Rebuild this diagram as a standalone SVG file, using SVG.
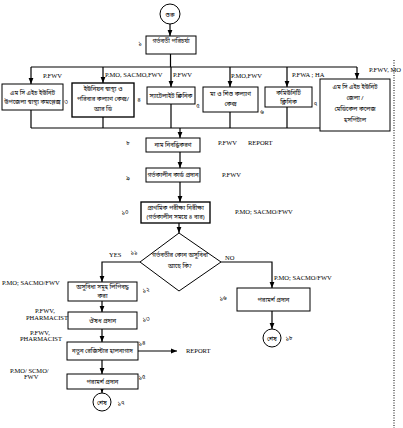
<svg xmlns="http://www.w3.org/2000/svg" width="403" height="428" viewBox="0 0 403 428">
<style>
.bx{fill:#fff;stroke:#000;stroke-width:1}
.bt{fill:#fff;stroke:#000;stroke-width:1.35}
.ln{fill:none;stroke:#000;stroke-width:1.2}
.bn{font-family:"Noto Sans Bengali","Noto Sans",sans-serif;font-size:6px;fill:#000;text-anchor:middle}
.nm{font-family:"Noto Sans Bengali","Noto Sans",sans-serif;font-size:6px;fill:#000;text-anchor:middle}
.lb{font-family:"Liberation Serif",serif;font-size:6.5px;fill:#000}
.dot{stroke:#000;stroke-width:1;stroke-dasharray:1,1.5}
</style>
<defs>
<marker id="ah" viewBox="0 0 10 10" refX="10" refY="5" markerWidth="6" markerHeight="6" orient="auto" markerUnits="userSpaceOnUse">
<path d="M0,1 L10,5 L0,9 z" fill="#000"/>
</marker>
</defs>
<rect width="403" height="428" fill="#fff"/>
<line class="dot" x1="394" y1="60" x2="394" y2="428"/>
<g id="connectors">
<line class="ln" x1="170" y1="24" x2="170" y2="36" marker-end="url(#ah)"/>
<line class="ln" x1="170.5" y1="54" x2="170.5" y2="67"/>
<line class="ln" x1="31" y1="67" x2="357" y2="67"/>
<line class="ln" x1="31" y1="67" x2="31" y2="84" marker-end="url(#ah)"/>
<line class="ln" x1="103" y1="67" x2="103" y2="83" marker-end="url(#ah)"/>
<line class="ln" x1="171" y1="67" x2="171" y2="87" marker-end="url(#ah)"/>
<line class="ln" x1="230" y1="67" x2="230" y2="87" marker-end="url(#ah)"/>
<line class="ln" x1="287" y1="67" x2="287" y2="87" marker-end="url(#ah)"/>
<line class="ln" x1="357" y1="67" x2="357" y2="79" marker-end="url(#ah)"/>
<line class="ln" x1="31" y1="110" x2="31" y2="128"/>
<line class="ln" x1="103" y1="117" x2="103" y2="128"/>
<line class="ln" x1="171" y1="104" x2="171" y2="128"/>
<line class="ln" x1="230" y1="112" x2="230" y2="128"/>
<line class="ln" x1="287" y1="107" x2="287" y2="128"/>
<line class="ln" x1="31" y1="128" x2="320" y2="128"/>
<line class="ln" x1="180" y1="128" x2="180" y2="138" marker-end="url(#ah)"/>
<line class="ln" x1="180" y1="152" x2="180" y2="168" marker-end="url(#ah)"/>
<line class="ln" x1="180" y1="182" x2="180" y2="202" marker-end="url(#ah)"/>
<line class="ln" x1="179" y1="223" x2="179" y2="233" marker-end="url(#ah)"/>
<polyline class="ln" points="140,262 102,262 102,282" marker-end="url(#ah)"/>
<polyline class="ln" points="221,262 272,262 272,288" marker-end="url(#ah)"/>
<line class="ln" x1="102" y1="301" x2="102" y2="312" marker-end="url(#ah)"/>
<line class="ln" x1="102" y1="329" x2="102" y2="342" marker-end="url(#ah)"/>
<line class="ln" x1="138" y1="351" x2="177" y2="351" marker-end="url(#ah)"/>
<line class="ln" x1="102" y1="360" x2="102" y2="374" marker-end="url(#ah)"/>
<line class="ln" x1="102" y1="389" x2="102" y2="393" marker-end="url(#ah)"/>
<line class="ln" x1="272" y1="311" x2="272" y2="329" marker-end="url(#ah)"/>
</g>
<g id="start">
<circle class="bx" cx="170" cy="14" r="10"/>
<text class="bn" x="170" y="16.5" font-size="7">শুরু</text>
</g>
<g id="n1">
<rect class="bx" x="146" y="36" width="50" height="18"/>
<text class="bn" x="171" y="43">গর্ভবতী পরিচর্যা</text>
<text class="nm" x="140" y="45">১</text>
</g>
<g id="n2">
<rect class="bx" x="2" y="84" width="61" height="26"/>
<text class="bn" x="32.5" y="95">এম সি এইচ ইউনিট</text>
<text class="bn" x="32.5" y="104">উপজেলা স্বাস্থ্য কমপ্লেক্স</text>
<text class="nm" x="66" y="104">৩</text>
<text class="lb" x="43" y="78">P.FWV</text>
</g>
<g id="n3">
<rect class="bt" x="72" y="83" width="62" height="34"/>
<text class="bn" x="103" y="91">ইউনিয়ন  স্বাস্থ্য ও</text>
<text class="bn" x="103" y="101">পরিবার কল্যাণ কেন্দ্র/</text>
<text class="bn" x="103" y="111">আর ডি</text>
<text class="nm" x="139" y="102">৪</text>
<text class="lb" x="105" y="77">P.MO, SACMO,FWV</text>
</g>
<g id="n4">
<rect class="bx" x="147" y="87" width="48" height="17"/>
<text class="bn" x="171" y="97.5">স্যাটেলাইট ক্লিনিক</text>
<text class="nm" x="198" y="108">৫</text>
<text class="lb" x="173" y="77">P.FWV</text>
</g>
<g id="n5">
<rect class="bx" x="203" y="87" width="55" height="25"/>
<text class="bn" x="230.5" y="96">মা ও শিশু কল্যাণ</text>
<text class="bn" x="230.5" y="106">কেন্দ্র</text>
<text class="nm" x="262" y="114">৬</text>
<text class="lb" x="231" y="78">P.MO,FWV</text>
</g>
<g id="n6">
<rect class="bx" x="265" y="87" width="47" height="20"/>
<text class="bn" x="288.5" y="95">কমিউনিটি</text>
<text class="bn" x="288.5" y="104">ক্লিনিক</text>
<text class="nm" x="315.5" y="106">৭</text>
<text class="lb" x="292" y="77">P.FWA ; HA</text>
</g>
<g id="n7">
<rect class="bx" x="320" y="79" width="70" height="52"/>
<text class="bn" x="355" y="89">এম সি এইচ ইউনিট</text>
<text class="bn" x="355" y="100">জেলা /</text>
<text class="bn" x="355" y="111">মেডিকেল কলেজ</text>
<text class="bn" x="355" y="122">হসপিটাল</text>
<text class="lb" x="369" y="72">P.FWV, MO</text>
</g>
<g id="n8">
<rect class="bx" x="146" y="138" width="54" height="14"/>
<text class="bn" x="173" y="147">নাম নিবন্ধিকরণ</text>
<text class="nm" x="128" y="145">৮</text>
<text class="lb" x="218" y="145">P.FWV</text>
<text class="lb" x="248" y="145">REPORT</text>
</g>
<g id="n9">
<rect class="bx" x="146" y="168" width="54" height="14"/>
<text class="bn" x="173" y="177">গর্ভকালীন কার্ড প্রদান</text>
<text class="nm" x="128" y="180">৯</text>
<text class="lb" x="222" y="177">P.FWV</text>
</g>
<g id="n10">
<rect class="bt" x="141" y="202" width="69" height="21"/>
<text class="bn" x="175.5" y="210">প্রাথমিক পরীক্ষা নিরীক্ষা</text>
<text class="bn" x="175.5" y="219">(গর্ভকালীন সময়ে ৪ বার)</text>
<text class="nm" x="125" y="214">১০</text>
<text class="lb" x="235" y="214">P.MO; SACMO/FWV</text>
</g>
<g id="n11">
<polygon class="bx" points="179,233 221,262 179,291 140,262"/>
<text class="bn" x="180" y="257" font-size="5.6">গর্ভবতীর কোন অসুবিধা</text>
<text class="bn" x="180" y="268" font-size="5.6">আছে কি?</text>
<text class="nm" x="134" y="254">১১</text>
<text class="lb" x="109" y="257">YES</text>
<text class="lb" x="225" y="260">NO</text>
</g>
<g id="n12">
<rect class="bx" x="68" y="282" width="69" height="19"/>
<text class="bn" x="102.5" y="289">অসুবিধা সমূহ লিপিবদ্ধ</text>
<text class="bn" x="102.5" y="298">করা</text>
<text class="nm" x="146" y="292">১২</text>
<text class="lb" x="2" y="285">P.MO; SACMO/FWV</text>
</g>
<g id="n13">
<rect class="bx" x="68" y="312" width="69" height="17"/>
<text class="bn" x="102.5" y="322.5">ঔষধ প্রদান</text>
<text class="nm" x="146" y="321">১৩</text>
<text class="lb" x="35" y="313">P.FWV,</text>
<text class="lb" x="26" y="320">PHARMACIST</text>
</g>
<g id="n14">
<rect class="bx" x="67" y="342" width="71" height="18"/>
<text class="bn" x="102.5" y="353">নতুন রেজিস্টার হালনাগাদ</text>
<text class="nm" x="142" y="345">১৪</text>
<text class="lb" x="186" y="353">REPORT</text>
<text class="lb" x="30" y="335">P.FWV,</text>
<text class="lb" x="20" y="341">PHARMACIST</text>
</g>
<g id="n15">
<rect class="bx" x="67" y="374" width="71" height="15"/>
<text class="bn" x="102.5" y="384">পরামর্শ প্রদান</text>
<text class="nm" x="142" y="379">১৫</text>
<text class="lb" x="10" y="373">P.MO/ SCMO/</text>
<text class="lb" x="24" y="379">FWV</text>
</g>
<g id="end1">
<circle class="bx" cx="102" cy="402" r="9"/>
<text class="bn" x="102" y="404.5">শেষ</text>
<text class="nm" x="121" y="405">১৭</text>
</g>
<g id="n16">
<rect class="bx" x="237" y="288" width="73" height="23"/>
<text class="bn" x="273.5" y="301.5">পরামর্শ প্রদান</text>
<text class="nm" x="223" y="300">১৬</text>
<text class="lb" x="274" y="280">P.MO; SACMO/FWV</text>
</g>
<g id="end2">
<circle class="bx" cx="272" cy="338" r="9"/>
<text class="bn" x="272" y="340.5">শেষ</text>
<text class="nm" x="289" y="340">১৮</text>
</g>
</svg>
